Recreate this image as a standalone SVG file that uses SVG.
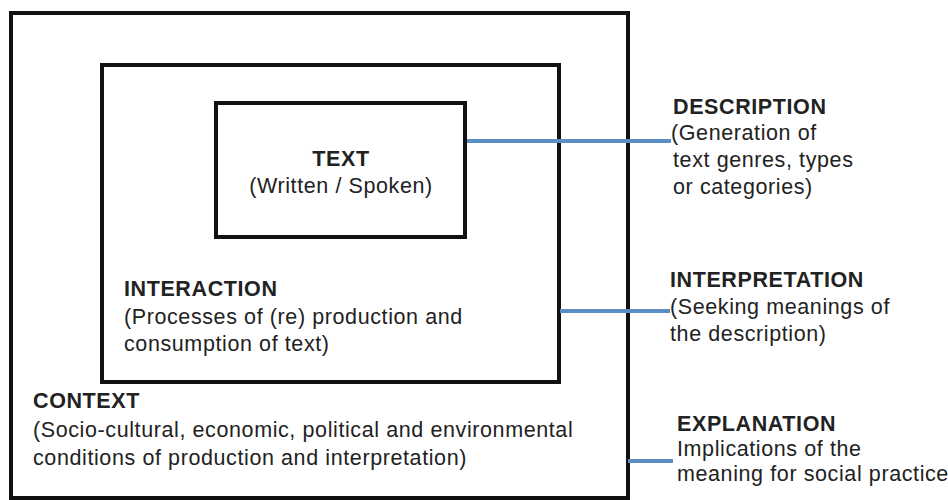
<svg xmlns="http://www.w3.org/2000/svg" width="948" height="500" viewBox="0 0 948 500">
<style>
.box{fill:none;stroke:#111;stroke-width:4}
.t{font-family:"Liberation Sans",Arial,sans-serif;font-size:21.5px;letter-spacing:0.6px;fill:#222}
.b{font-weight:bold}
.c{stroke:#5b8fc4;stroke-width:4;fill:none}
</style>
<rect width="948" height="500" fill="#fff"/>
<g id="context">
<rect class="box" x="11" y="13" width="617" height="485"/>
<text class="t b" x="33" y="408">CONTEXT</text>
<text class="t" x="33" y="437">(Socio-cultural, economic, political and environmental</text>
<text class="t" x="33" y="465">conditions of production and interpretation)</text>
</g>
<g id="interaction">
<rect class="box" x="102" y="65" width="457" height="317"/>
<text class="t b" x="124" y="296">INTERACTION</text>
<text class="t" x="124" y="324">(Processes of (re) production and</text>
<text class="t" x="124" y="351">consumption of text)</text>
</g>
<g id="text">
<rect class="box" x="216" y="103" width="249" height="134"/>
<text class="t b" x="341" y="166" text-anchor="middle">TEXT</text>
<text class="t" x="341" y="193" text-anchor="middle">(Written / Spoken)</text>
</g>
<g id="connectors">
<line class="c" x1="467" y1="141" x2="671" y2="141"/>
<line class="c" x1="560" y1="311" x2="670" y2="311"/>
<line class="c" x1="628" y1="461" x2="673" y2="461"/>
</g>
<g id="description">
<text class="t b" x="673" y="114">DESCRIPTION</text>
<text class="t" x="671" y="140">(Generation of</text>
<text class="t" x="673" y="167">text genres, types</text>
<text class="t" x="673" y="194">or categories)</text>
</g>
<g id="interpretation">
<text class="t b" x="670" y="287">INTERPRETATION</text>
<text class="t" x="670" y="314">(Seeking meanings of</text>
<text class="t" x="670" y="341">the description)</text>
</g>
<g id="explanation">
<text class="t b" x="677" y="431">EXPLANATION</text>
<text class="t" x="677" y="456">Implications of the</text>
<text class="t" x="677" y="481">meaning for social practice</text>
</g>
</svg>
